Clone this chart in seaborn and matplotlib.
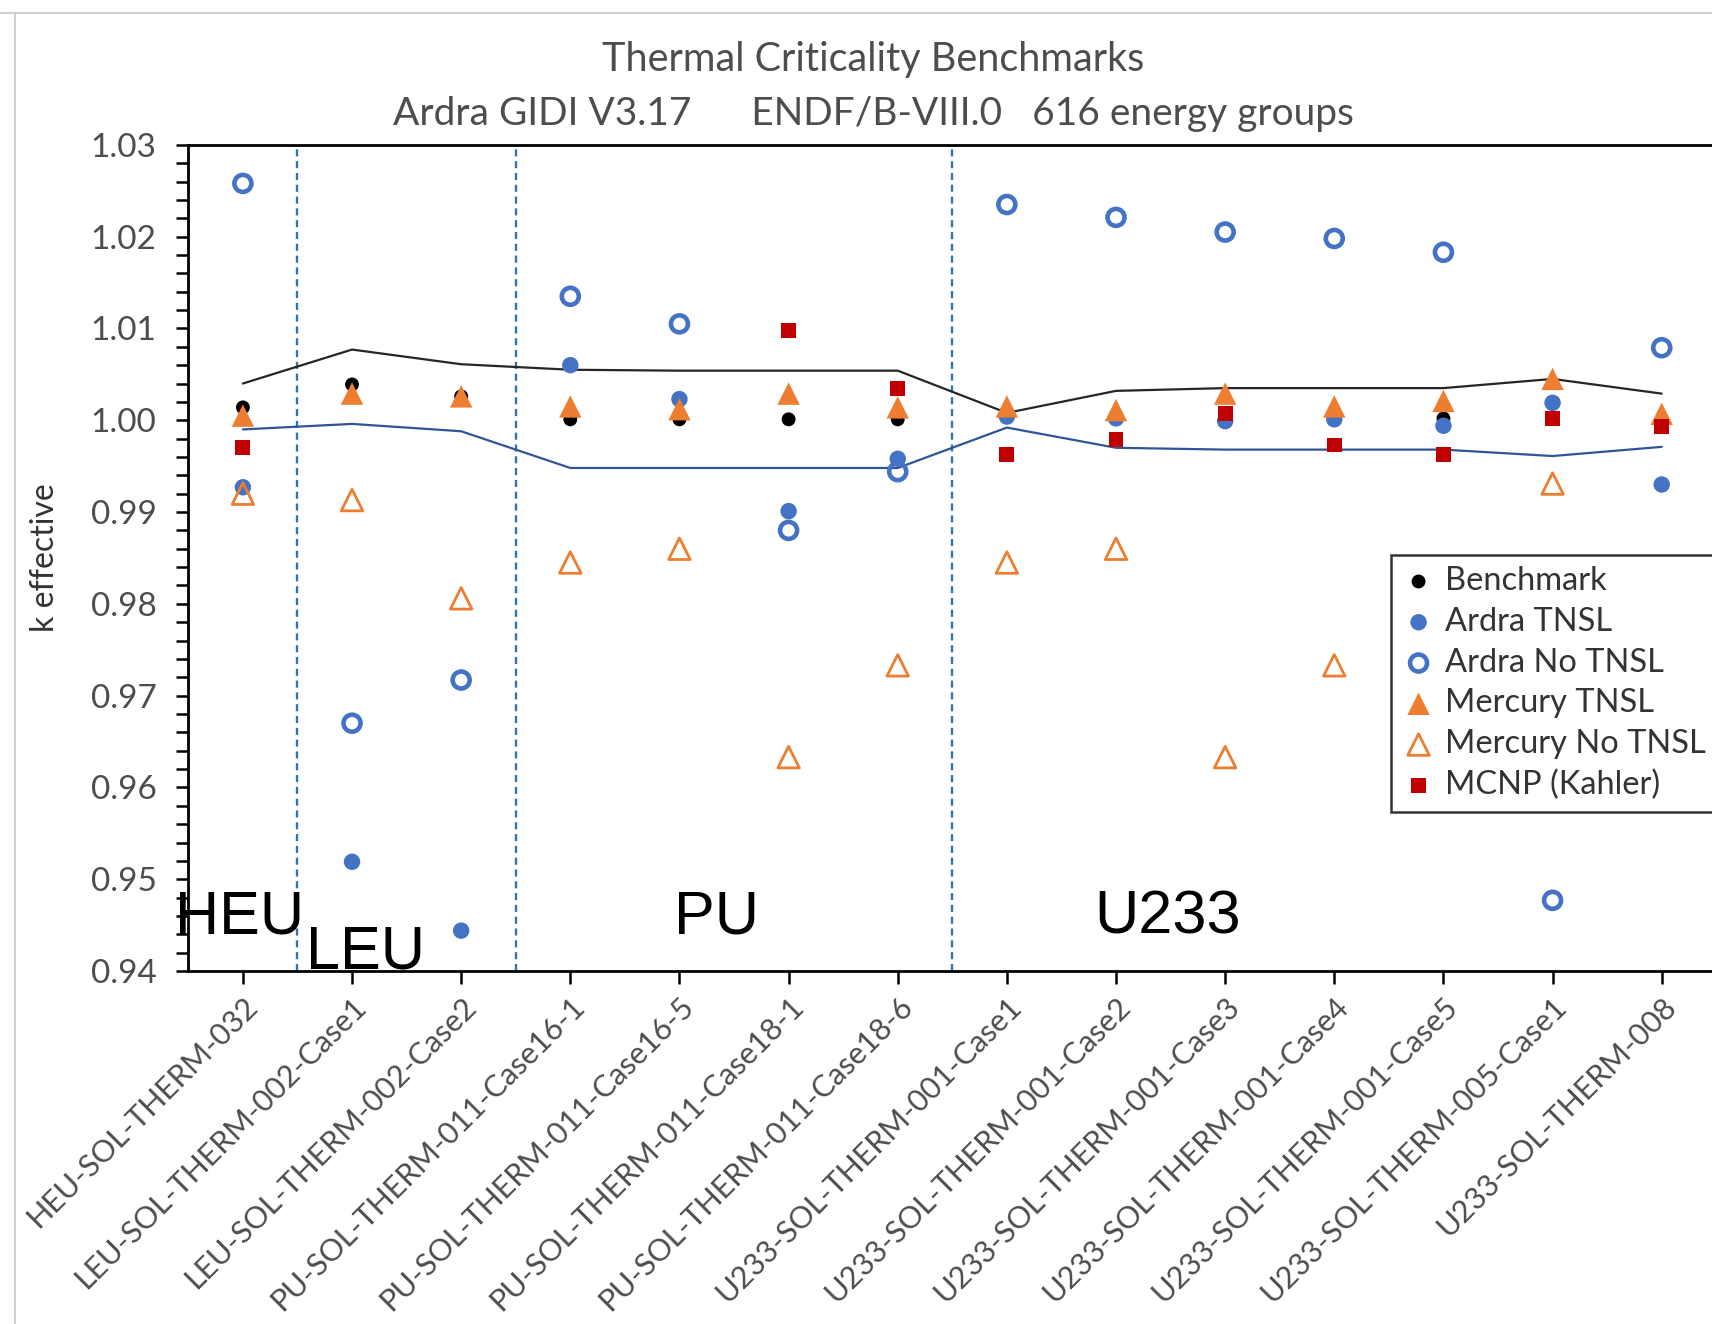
import numpy as np
import pandas as pd
import matplotlib
matplotlib.use("Agg")
import matplotlib.pyplot as plt
from matplotlib.lines import Line2D
from matplotlib.ticker import MultipleLocator, FormatStrFormatter
import seaborn as sns

# Benchmark cases
cases = ['HEU-SOL-THERM-032', 'LEU-SOL-THERM-002-Case1', 'LEU-SOL-THERM-002-Case2',
         'PU-SOL-THERM-011-Case16-1', 'PU-SOL-THERM-011-Case16-5', 'PU-SOL-THERM-011-Case18-1',
         'PU-SOL-THERM-011-Case18-6', 'U233-SOL-THERM-001-Case1', 'U233-SOL-THERM-001-Case2',
         'U233-SOL-THERM-001-Case3', 'U233-SOL-THERM-001-Case4', 'U233-SOL-THERM-001-Case5',
         'U233-SOL-THERM-005-Case1', 'U233-SOL-THERM-008']

benchmark = [1.0014, 1.0039, 1.0026, 1.0001, 1.0001, 1.0001, 1.0001,
             1.0004, 1.0002, 1.0001, 1.0001, 1.0002, 1.0003, 1.0000]
upper_band = [1.0040, 1.0077, 1.0061, 1.0055, 1.0054, 1.0054, 1.0054,
              1.0008, 1.0032, 1.0035, 1.0035, 1.0035, 1.0045, 1.0029]
lower_band = [0.9990, 0.9996, 0.9988, 0.9948, 0.9948, 0.9948, 0.9948,
              0.9992, 0.9970, 0.9968, 0.9968, 0.9968, 0.9961, 0.9971]
ardra_tnsl = [0.9927, 0.9519, 0.9444, 1.0060, 1.0023, 0.9901, 0.9958,
              1.0004, 1.0002, 0.9999, 1.0001, 0.9994, 1.0019, 0.9930]
ardra_no_tnsl = [1.0258, 0.9670, 0.9717, 1.0135, 1.0105, 0.9880, 0.9944,
                 1.0235, 1.0221, 1.0205, 1.0198, 1.0183, 0.9477, 1.0079]
mercury_tnsl = [1.0005, 1.0029, 1.0026, 1.0015, 1.0012, 1.0029, 1.0014,
                1.0015, 1.0011, 1.0029, 1.0015, 1.0021, 1.0045, 1.0007]
mercury_no_tnsl = [0.9920, 0.9913, 0.9806, 0.9845, 0.9860, 0.9633, 0.9733,
                   0.9845, 0.9860, 0.9633, 0.9733, np.nan, 0.9931, np.nan]
mcnp = [0.9970, np.nan, np.nan, np.nan, np.nan, 1.0098, 1.0035,
        0.9963, 0.9979, 1.0007, 0.9973, 0.9963, 1.0002, 0.9993]

group_labels = ['HEU', 'LEU', 'PU', 'U233']
group_x = [-0.03, 1.12, 4.34, 8.47]
group_y = [0.9458, 0.9420, 0.9458, 0.9458]
dividers = [0.5, 2.5, 6.5]

df = pd.DataFrame({'x': np.arange(len(cases)), 'benchmark': benchmark, 'upper': upper_band,
                   'lower': lower_band, 'ardra_tnsl': ardra_tnsl, 'ardra_no': ardra_no_tnsl,
                   'merc_tnsl': mercury_tnsl, 'merc_no': mercury_no_tnsl, 'mcnp': mcnp})

sns.set_style('ticks')
plt.rcParams['font.family'] = ['Lato', 'DejaVu Sans']

BLUE = '#4472C4'
ORANGE = '#ED7D31'
RED = '#C00000'
GRAY = '#4D4D4D'

fig = plt.figure(figsize=(17.12, 13.24), dpi=100)
ax = fig.add_axes([0.110, 0.2666, 0.8925, 0.624])

# faint spreadsheet border around the chart
fig.add_artist(Line2D([0, 1], [0.990, 0.990], color='#D0D0D0', lw=1.5))
fig.add_artist(Line2D([0.009, 0.009], [0, 0.990], color='#D0D0D0', lw=1.5))

sns.lineplot(data=df, x='x', y='upper', color='#262626', lw=1.6, ax=ax, legend=False)
sns.lineplot(data=df, x='x', y='lower', color='#2F5597', lw=1.6, ax=ax, legend=False)

for d in dividers:
    ax.axvline(d, color='#2E75B6', ls=(0, (3, 2)), lw=1.7, zorder=1)

sns.scatterplot(data=df, x='x', y='benchmark', color='black', marker='o', s=100,
                edgecolor='none', ax=ax, label='Benchmark', zorder=3)
sns.scatterplot(data=df, x='x', y='ardra_tnsl', color=BLUE, marker='o', s=140,
                edgecolor='none', ax=ax, label='Ardra TNSL', zorder=3)
sns.scatterplot(data=df, x='x', y='ardra_no', marker='o', s=150, facecolor='none',
                edgecolor=BLUE, linewidth=3.3, ax=ax, label='Ardra No TNSL', zorder=3)
sns.scatterplot(data=df, x='x', y='merc_tnsl', color=ORANGE, marker='^', s=260,
                edgecolor='none', ax=ax, label='Mercury TNSL', zorder=3)
sns.scatterplot(data=df, x='x', y='merc_no', marker='^', s=240, facecolor='none',
                edgecolor=ORANGE, linewidth=2, ax=ax, label='Mercury No TNSL', zorder=3)
sns.scatterplot(data=df, x='x', y='mcnp', color=RED, marker='s', s=115,
                edgecolor='none', ax=ax, label='MCNP (Kahler)', zorder=3)

for lab, gx, gy in zip(group_labels, group_x, group_y):
    ax.text(gx, gy, lab, fontsize=44, family='Liberation Sans', color='black',
            ha='center', va='center', zorder=4)

ax.set_xlim(-0.5, len(cases) - 0.5)
ax.set_ylim(0.94, 1.03)
ax.yaxis.set_major_locator(MultipleLocator(0.01))
ax.yaxis.set_minor_locator(MultipleLocator(0.002))
ax.yaxis.set_major_formatter(FormatStrFormatter('%.2f'))
ax.set_xticks(df['x'])
ax.set_xticklabels(cases, rotation=45, ha='right', rotation_mode='anchor')
ax.tick_params(axis='both', which='both', direction='out', length=9, width=1.8, color='black')
ax.tick_params(axis='y', labelsize=24, labelcolor=GRAY, pad=14)
ax.tick_params(axis='x', labelsize=22, labelcolor=GRAY, pad=6)
ax.set_xlabel('')
ax.set_ylabel('k effective', fontsize=23, color='#333333', labelpad=22)

for sp in ax.spines.values():
    sp.set_color('black')
    sp.set_linewidth(2)

leg = ax.legend(loc='upper left', bbox_to_anchor=(0.787, 0.504), borderaxespad=0,
                fontsize=23.5, frameon=True, fancybox=False, edgecolor='black',
                handletextpad=0.3, labelspacing=0.33, handlelength=1.0,
                borderpad=0.35, labelcolor='#333333')
leg.get_frame().set_linewidth(1.8)

fig.text(0.510, 0.955, 'Thermal Criticality Benchmarks', fontsize=28.5, color=GRAY,
         ha='center', va='center')
fig.text(0.510, 0.914, 'Ardra GIDI V3.17      ENDF/B-VIII.0   616 energy groups',
         fontsize=28, color=GRAY, ha='center', va='center')

fig.savefig('out.png', dpi=100)
